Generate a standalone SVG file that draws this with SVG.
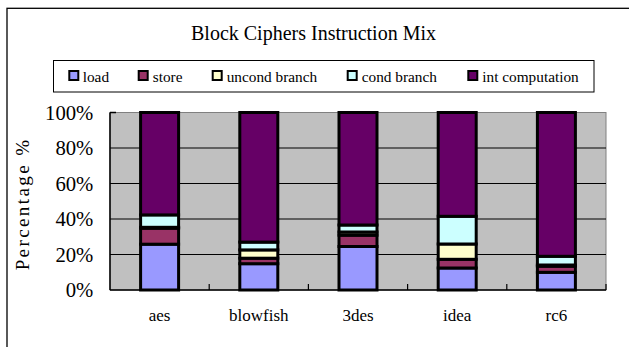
<svg xmlns="http://www.w3.org/2000/svg" width="629" height="347" viewBox="0 0 629 347">
<style>
.t{font-family:"Liberation Serif","Times New Roman",serif;fill:#000}
.seg{stroke:#000;stroke-width:3}
.sw{stroke:#000;stroke-width:2}
.grid{stroke:#000;stroke-width:1}
.load{fill:#9999FF}.store{fill:#993366}.unc{fill:#FFFFCC}.cond{fill:#CCFFFF}.int{fill:#660066}
</style>
<rect x="0" y="0" width="629" height="347" fill="#fff"/>
<rect x="7" y="8.3" width="640" height="360" fill="none" stroke="#000" stroke-width="1.3"/>
<g id="title"><text class="t" x="313.5" y="40" font-size="20" text-anchor="middle">Block Ciphers Instruction Mix</text></g>
<g id="legend">
<rect x="53.5" y="60.5" width="540.5" height="31.5" fill="#fff" stroke="#000" stroke-width="1"/>
<rect class="sw load" x="69.3" y="71" width="9" height="9"/>
<text class="t" x="82.7" y="81.5" font-size="15.3">load</text>
<rect class="sw store" x="138.7" y="71" width="9" height="9"/>
<text class="t" x="152.7" y="81.5" font-size="15.3">store</text>
<rect class="sw unc" x="212.7" y="71" width="9" height="9"/>
<text class="t" x="226.7" y="81.5" font-size="15.3">uncond branch</text>
<rect class="sw cond" x="347.7" y="71" width="9" height="9"/>
<text class="t" x="361.7" y="81.5" font-size="15.3">cond branch</text>
<rect class="sw int" x="468.3" y="71" width="9" height="9"/>
<text class="t" x="482.3" y="81.5" font-size="15.3">int computation</text>
</g>
<g id="plot">
<rect x="110" y="112.5" width="496" height="177.5" fill="#C0C0C0" stroke="#808080" stroke-width="1"/>
<line class="grid" x1="110" y1="148" x2="606" y2="148"/>
<line class="grid" x1="110" y1="183.5" x2="606" y2="183.5"/>
<line class="grid" x1="110" y1="219" x2="606" y2="219"/>
<line class="grid" x1="110" y1="254.5" x2="606" y2="254.5"/>
<line x1="110" y1="112.5" x2="110" y2="290" stroke="#000" stroke-width="1.5"/>
<line x1="110" y1="112.5" x2="116" y2="112.5" stroke="#000" stroke-width="1.5"/>
<line x1="110" y1="290" x2="606" y2="290" stroke="#000" stroke-width="1.5"/>
<g stroke="#000" stroke-width="1.2">
<line x1="209.2" y1="284" x2="209.2" y2="290"/>
<line x1="308.4" y1="284" x2="308.4" y2="290"/>
<line x1="407.6" y1="284" x2="407.6" y2="290"/>
<line x1="506.8" y1="284" x2="506.8" y2="290"/>
<line x1="606" y1="284" x2="606" y2="290"/>
</g>
</g>
<g id="yaxis" class="t" font-size="20.7" text-anchor="end">
<text x="93.3" y="119.5">100%</text>
<text x="93.3" y="155">80%</text>
<text x="93.3" y="190.5">60%</text>
<text x="93.3" y="226">40%</text>
<text x="93.3" y="261.5">20%</text>
<text x="93.3" y="297">0%</text>
</g>
<g id="ytitle"><text class="t" x="0" y="0" font-size="19" letter-spacing="2.4" text-anchor="middle" transform="translate(29,204) rotate(-90)">Percentage %</text></g>
<g id="bar-aes">
<rect class="seg load" x="140.6" y="244.2" width="38" height="45.8"/>
<rect class="seg store" x="140.6" y="228.2" width="38" height="16"/>
<rect class="seg unc" x="140.6" y="227.3" width="38" height="0.9"/>
<rect class="seg cond" x="140.6" y="214.9" width="38" height="12.4"/>
<rect class="seg int" x="140.6" y="112.5" width="38" height="102.4"/>
</g>
<g id="bar-blowfish">
<rect class="seg load" x="239.8" y="263.7" width="38" height="26.3"/>
<rect class="seg store" x="239.8" y="258.2" width="38" height="5.5"/>
<rect class="seg unc" x="239.8" y="249.9" width="38" height="8.3"/>
<rect class="seg cond" x="239.8" y="242.1" width="38" height="7.8"/>
<rect class="seg int" x="239.8" y="112.5" width="38" height="129.6"/>
</g>
<g id="bar-3des">
<rect class="seg load" x="339" y="246.5" width="38" height="43.5"/>
<rect class="seg store" x="339" y="235.2" width="38" height="11.3"/>
<rect class="seg unc" x="339" y="232" width="38" height="3.2"/>
<rect class="seg cond" x="339" y="225" width="38" height="7"/>
<rect class="seg int" x="339" y="112.5" width="38" height="112.5"/>
</g>
<g id="bar-idea">
<rect class="seg load" x="438.2" y="268" width="38" height="22"/>
<rect class="seg store" x="438.2" y="259.3" width="38" height="8.7"/>
<rect class="seg unc" x="438.2" y="244" width="38" height="15.3"/>
<rect class="seg cond" x="438.2" y="216.3" width="38" height="27.7"/>
<rect class="seg int" x="438.2" y="112.5" width="38" height="103.8"/>
</g>
<g id="bar-rc6">
<rect class="seg load" x="537.4" y="272.3" width="38" height="17.7"/>
<rect class="seg store" x="537.4" y="266.2" width="38" height="6.1"/>
<rect class="seg unc" x="537.4" y="265" width="38" height="1.2"/>
<rect class="seg cond" x="537.4" y="256.3" width="38" height="8.7"/>
<rect class="seg int" x="537.4" y="112.5" width="38" height="143.8"/>
</g>
<g id="xlabels" class="t" font-size="17" text-anchor="middle">
<text x="159.6" y="321">aes</text>
<text x="258.8" y="321">blowfish</text>
<text x="358" y="321">3des</text>
<text x="457.2" y="321">idea</text>
<text x="556.4" y="321">rc6</text>
</g>
</svg>
